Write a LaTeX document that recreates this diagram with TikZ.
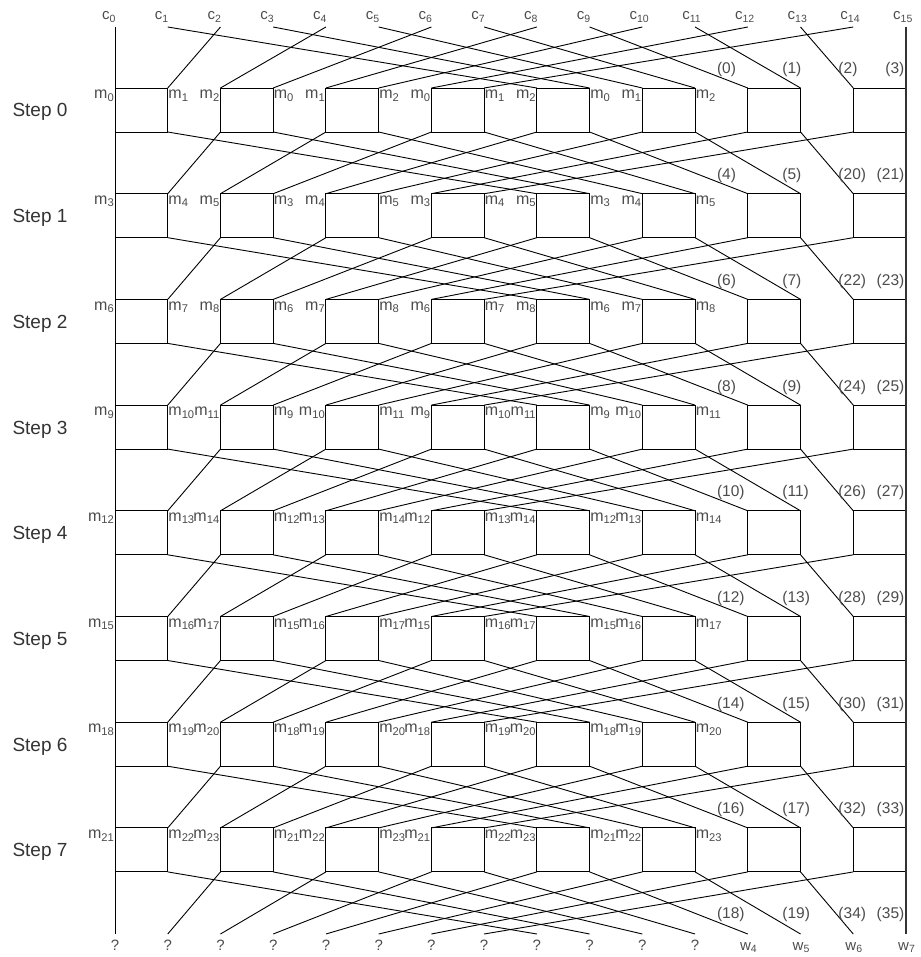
\documentclass[tikz,border=0pt]{standalone}
\usepackage{fontspec}
\setmainfont{Liberation Sans}
\begin{document}
\begin{tikzpicture}[x=1pt,y=-1pt,
  wire/.style={line width=0.9pt,draw=black},
  boxr/.style={line width=0.9pt,draw=black},
  lab/.style={font=\fontsize{15}{15}\selectfont,text=black!70,inner sep=0pt},
  mlab/.style={font=\fontsize{16}{16}\selectfont,text=black!70,inner sep=0pt},
  steplab/.style={font=\fontsize{19}{19}\selectfont,text=black!80,inner sep=0pt,anchor=base},
  num/.style={font=\fontsize{15.5}{15.5}\selectfont,text=black!70,inner sep=0pt}
]
\useasboundingbox (0,0) rectangle (920,957);
\def\dx{52.733}
\def\dy{105.7}
% named points
\foreach \j in {0,...,15}{
  \coordinate (c\j) at ({115+\dx*\j},27);
  \coordinate (e\j) at ({115+\dx*\j},934);
  \foreach \k in {0,...,7}{
    \coordinate (T\k-\j) at ({115+\dx*\j},{88+\dy*\k});
    \coordinate (B\k-\j) at ({115+\dx*\j},{132+\dy*\k});
  }
}
% boxes
\foreach \k in {0,...,7}{
  \foreach \i in {0,...,7}{
    \pgfmathtruncatemacro\a{2*\i}
    \pgfmathtruncatemacro\b{2*\i+1}
    \draw[boxr] (T\k-\a) rectangle (B\k-\b);
  }
}
% shuffle connections
\foreach \j in {0,...,15}{
  \pgfmathtruncatemacro\p{ifthenelse(mod(\j,2)==0,\j/2,8+(\j-1)/2)}
  \draw[wire] (c\j) -- (T0-\p);
  \foreach \k in {0,...,6}{
    \pgfmathtruncatemacro\kk{\k+1}
    \draw[wire] (B\k-\j) -- (T\kk-\p);
  }
  \draw[wire] (B7-\j) -- (e\p);
}
\draw[line width=1.4pt,black!80] (c15) -- (e15);
% top labels
\foreach \j in {0,...,15}{
  \node[lab,anchor=base west] (lc\j) at ([xshift=-13pt]c\j |- 0,20) {c\textsubscript{\j}};
}
% bottom labels
\foreach \j in {0,...,11}{
  \node[lab,anchor=base] (q\j) at (e\j |- 0,950) {?};
}
\foreach \j in {12,...,15}{
  \pgfmathtruncatemacro\w{\j-8}
  \node[lab,anchor=base west] (w\j) at ([xshift=-8pt]e\j |- 0,950) {w\textsubscript{\w}};
}
% step labels and m labels
\foreach \k in {0,...,7}{
  \node[steplab] (s\k) at (40,{117+\dy*\k}) {Step \k};
  \foreach \j in {0,...,11}{
    \pgfmathtruncatemacro\m{3*\k+mod(\j,3)}
    \ifodd\j\relax
      \node[mlab,anchor=base west] (m\k-\j) at ([shift={(0.5,10.6)}]T\k-\j) {m\textsubscript{\m}};
    \else
      \node[mlab,anchor=base east] (m\k-\j) at ([shift={(-0.5,10.6)}]T\k-\j) {m\textsubscript{\m}};
    \fi
  }
}
% numbered labels above the right-hand boxes
\foreach \k/\a/\b/\c/\d in {0/0/1/2/3,1/4/5/20/21,2/6/7/22/23,3/8/9/24/25,4/10/11/26/27,5/12/13/28/29,6/14/15/30/31,7/16/17/32/33}{
  \node[num,anchor=base west] (n\k-12) at ([shift={(-31,-14)}]T\k-12) {(\a)};
  \node[num,anchor=base west] (n\k-13) at ([shift={(-18.3,-14)}]T\k-13) {(\b)};
  \node[num,anchor=base west] (n\k-14) at ([shift={(-15,-14)}]T\k-14) {(\c)};
  \node[num,anchor=base east] (n\k-15) at ([shift={(-1.5,-14)}]T\k-15) {(\d)};
}
\node[num,anchor=base west] (ne12) at ([shift={(-31,-16)}]e12) {(18)};
\node[num,anchor=base west] (ne13) at ([shift={(-18.3,-16)}]e13) {(19)};
\node[num,anchor=base west] (ne14) at ([shift={(-15,-16)}]e14) {(34)};
\node[num,anchor=base east] (ne15) at ([shift={(-1.5,-16)}]e15) {(35)};
\end{tikzpicture}
\end{document}
